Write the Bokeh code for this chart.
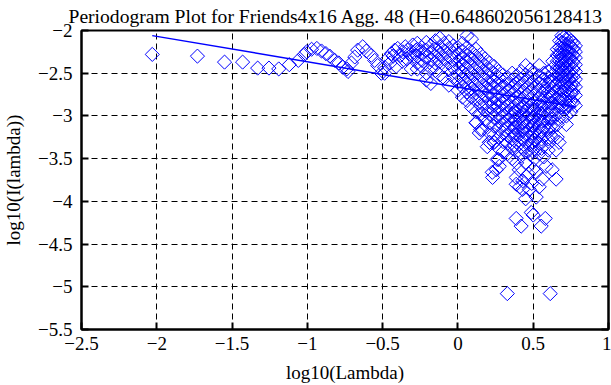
import numpy as np
from bokeh.plotting import figure
from bokeh.models import FixedTicker, LinearAxis, ColumnDataSource
from bokeh.embed import file_html
from bokeh.resources import INLINE

title_text = "Periodogram Plot for Friends4x16 Agg. 48 (H=0.648602056128413"
x_label = "log10(Lambda)"
y_label = "log10(I(lambda))"

x_ticks = [-2.5, -2, -1.5, -1, -0.5, 0, 0.5, 1]
x_tick_labels = ["\u22122.5", "\u22122", "\u22121.5", "\u22121", "\u22120.5", "0", "0.5", "1"]
y_ticks = [-5.5, -5, -4.5, -4, -3.5, -3, -2.5, -2]
y_tick_labels = ["\u22125.5", "\u22125", "\u22124.5", "\u22124", "\u22123.5", "\u22123", "\u22122.5", "\u22122"]

# low-frequency, clearly separated points
low_x = [-2.03, -1.73, -1.55, -1.43, -1.33, -1.255, -1.19, -1.12, -1.06, -1.02]
low_y = [-2.28, -2.30, -2.37, -2.37, -2.44, -2.44, -2.45, -2.40, -2.35, -2.28]

# points between log10(lambda) = -1 and -0.27
mid_x = [-1.005, -0.972, -0.937, -0.906, -0.877, -0.851, -0.818, -0.791, -0.765, -0.738,
         -0.730, -0.707, -0.685, -0.666, -0.632, -0.608, -0.575, -0.553, -0.533, -0.509,
         -0.487, -0.487, -0.467, -0.450, -0.442, -0.430, -0.420, -0.410, -0.400, -0.380,
         -0.370, -0.367, -0.350, -0.340, -0.334, -0.320, -0.310, -0.300, -0.290, -0.277]
mid_y = [-2.25, -2.22, -2.21, -2.24, -2.27, -2.30, -2.35, -2.38, -2.43, -2.45,
         -2.48, -2.38, -2.31, -2.23, -2.19, -2.24, -2.29, -2.35, -2.41, -2.50,
         -2.43, -2.50, -2.33, -2.38, -2.27, -2.30, -2.23, -2.42, -2.21, -2.29,
         -2.36, -2.25, -2.19, -2.33, -2.23, -2.27, -2.45, -2.17, -2.30, -2.23]

# dense part: one column of log10(I) values per log10(lambda) position
dense_x = [-0.27, -0.24, -0.21, -0.18, -0.15, -0.12, -0.09, -0.06, -0.03,
           0.00, 0.03, 0.06, 0.09, 0.12, 0.15, 0.18, 0.21, 0.24, 0.27, 0.30,
           0.33, 0.36, 0.39, 0.42, 0.45, 0.48, 0.51, 0.54,
           0.57, 0.60, 0.63, 0.66, 0.69, 0.72, 0.75, 0.78]
dense_y = [
    [-2.15, -2.22, -2.30, -2.38, -2.45],
    [-2.20, -2.27, -2.35, -2.42],
    [-2.14, -2.23, -2.31, -2.50, -2.58],
    [-2.18, -2.26, -2.34, -2.44, -2.62],
    [-2.12, -2.22, -2.30, -2.38, -2.47],
    [-2.09, -2.19, -2.28, -2.36, -2.52],
    [-2.15, -2.24, -2.33, -2.41, -2.56],
    [-2.13, -2.21, -2.30, -2.38, -2.46, -2.64],
    [-2.18, -2.27, -2.35, -2.44, -2.55],
    [-2.20, -2.28, -2.36, -2.44, -2.52, -2.60, -2.70],
    [-2.15, -2.24, -2.32, -2.40, -2.48, -2.57, -2.66, -2.78],
    [-2.06, -2.20, -2.29, -2.37, -2.45, -2.54, -2.62, -2.72, -2.82],
    [-2.10, -2.25, -2.33, -2.42, -2.50, -2.59, -2.68, -2.78, -2.90],
    [-2.22, -2.30, -2.39, -2.47, -2.56, -2.64, -2.73, -2.82, -2.95, -3.08],
    [-2.28, -2.36, -2.44, -2.53, -2.61, -2.70, -2.79, -2.88, -2.98, -3.16],
    [-2.33, -2.41, -2.50, -2.58, -2.67, -2.76, -2.85, -2.94, -3.04],
    [-2.38, -2.46, -2.55, -2.63, -2.72, -2.80, -2.89, -2.98, -3.08, -3.20, -3.31],
    [-2.42, -2.50, -2.59, -2.67, -2.76, -2.85, -2.93, -3.02, -3.12, -3.22, -3.31],
    [-2.48, -2.55, -2.64, -2.72, -2.81, -2.89, -2.98, -3.06, -3.15, -3.25, -3.38, -3.51],
    [-2.52, -2.60, -2.68, -2.77, -2.85, -2.94, -3.02, -3.11, -3.20, -3.30, -3.42],
    [-2.55, -2.63, -2.71, -2.80, -2.88, -2.97, -3.05, -3.14, -3.23, -3.32, -3.44],
    [-2.50, -2.58, -2.67, -2.75, -2.84, -2.92, -3.01, -3.10, -3.18, -3.27, -3.38, -3.50],
    [-2.53, -2.62, -2.70, -2.79, -2.87, -2.96, -3.05, -3.13, -3.22, -3.31, -3.42, -3.55],
    [-2.48, -2.57, -2.65, -2.74, -2.82, -2.91, -3.00, -3.08, -3.17, -3.26, -3.36, -3.47],
    [-2.41, -2.52, -2.60, -2.69, -2.77, -2.86, -2.95, -3.03, -3.12, -3.21, -3.31, -3.42, -3.55],
    [-2.46, -2.55, -2.63, -2.72, -2.80, -2.89, -2.98, -3.06, -3.15, -3.24, -3.34, -3.45],
    [-2.50, -2.58, -2.67, -2.75, -2.84, -2.93, -3.01, -3.10, -3.19, -3.28, -3.38, -3.50],
    [-2.41, -2.53, -2.62, -2.70, -2.79, -2.87, -2.96, -3.05, -3.13, -3.22, -3.32, -3.44],
    [-2.50, -2.57, -2.64, -2.71, -2.79, -2.88, -2.96, -3.05, -3.14, -3.24, -3.35, -3.48],
    [-2.48, -2.55, -2.63, -2.72, -2.80, -2.89, -2.98, -3.07, -3.16, -3.27, -3.40],
    [-2.36, -2.44, -2.52, -2.60, -2.68, -2.76, -2.85, -2.94, -3.03, -3.13, -3.25],
    [-2.22, -2.29, -2.36, -2.44, -2.52, -2.61, -2.70, -2.79, -2.88, -2.98, -3.10, -3.25],
    [-2.06, -2.14, -2.21, -2.29, -2.37, -2.45, -2.53, -2.62, -2.71, -2.80, -2.90, -3.02],
    [-2.10, -2.16, -2.23, -2.30, -2.37, -2.45, -2.53, -2.61, -2.70, -2.79, -2.89, -3.00, -3.10],
    [-2.12, -2.19, -2.26, -2.33, -2.40, -2.48, -2.56, -2.64, -2.73, -2.83, -2.95],
    [-2.18, -2.25, -2.32, -2.40, -2.48, -2.57, -2.66, -2.76, -2.88],
]

# extra in-between columns where the cloud is solid
fill_x = [0.375, 0.435, 0.495, 0.555, 0.615, 0.675, 0.705, 0.735, 0.765]
fill_y = [
    [-2.95, -3.04, -3.13, -3.22, -3.34],
    [-2.90, -2.99, -3.08, -3.17, -3.27, -3.39],
    [-2.92, -3.02, -3.11, -3.20, -3.30, -3.41],
    [-2.88, -2.97, -3.06, -3.16, -3.27, -3.38],
    [-2.60, -2.76, -2.85, -2.94, -3.03, -3.12, -3.22],
    [-2.12, -2.20, -2.28, -2.36, -2.44, -2.52, -2.60, -2.68, -2.78, -2.88],
    [-2.08, -2.15, -2.22, -2.30, -2.38, -2.46, -2.54, -2.63, -2.72, -2.82, -2.94],
    [-2.09, -2.16, -2.24, -2.32, -2.40, -2.49, -2.58, -2.67, -2.77, -2.88],
    [-2.14, -2.21, -2.29, -2.37, -2.45, -2.54, -2.63, -2.72, -2.84],
]

# scattered low values
out_x = [0.123, 0.162, 0.142, 0.195, 0.209, 0.240, 0.260, 0.275, 0.255, 0.228,
         0.230, 0.387, 0.407, 0.410, 0.430, 0.454, 0.474, 0.450, 0.520, 0.520,
         0.540, 0.560, 0.586, 0.626, 0.652, 0.652, 0.672, 0.387, 0.430, 0.490,
         0.500, 0.470, 0.387, 0.420, 0.487, 0.500, 0.580, 0.553, 0.328, 0.613]
out_y = [-3.08, -3.16, -3.20, -3.36, -3.31, -3.31, -3.51, -3.59, -3.63, -3.66,
         -3.72, -3.72, -3.63, -3.83, -3.86, -3.71, -3.86, -3.97, -3.66, -3.95,
         -3.83, -3.74, -3.59, -3.63, -3.74, -3.40, -3.31, -3.80, -3.76, -3.79,
         -3.62, -3.68, -4.20, -4.29, -4.13, -4.16, -4.20, -4.29, -5.08, -5.08]

# least-squares fit line end points
fit_x = [-2.03, 0.785]
fit_y = [-2.06, -2.896]

all_x = list(low_x) + list(mid_x) + list(out_x)
all_y = list(low_y) + list(mid_y) + list(out_y)
for cols_x, cols_y in ((dense_x, dense_y), (fill_x, fill_y)):
    for cx, cys in zip(cols_x, cols_y):
        all_x += [cx] * len(cys)
        all_y += list(cys)

FONT = "Liberation Serif"

p = figure(width=611, height=385, x_range=(-2.5, 1), y_range=(-5.5, -2),
           output_backend="svg", toolbar_location=None,
           min_border_left=81, min_border_right=3, min_border_top=30, min_border_bottom=54,
           x_axis_label=x_label, y_axis_label=y_label)

p.title.text = title_text
p.title.text_font = FONT
p.title.text_font_size = "19.6px"
p.title.text_font_style = "normal"
p.title.text_color = "black"
p.title.align = "left"
p.title.offset = -13
p.title.standoff = 7
p.outline_line_color = "black"
p.outline_line_width = 2
p.background_fill_color = "white"
p.border_fill_color = "white"

src = ColumnDataSource(dict(x=all_x, y=all_y))
p.scatter("x", "y", source=src, marker="square", angle=np.pi / 4, size=10,
          fill_color=None, line_color="#0000ff", line_width=1)
p.line(fit_x, fit_y, line_color="#0000ff", line_width=1.5)

for g, ticks in ((p.xgrid, x_ticks), (p.ygrid, y_ticks)):
    g.ticker = FixedTicker(ticks=ticks)
    g.grid_line_color = "black"
    g.grid_line_dash = "6 4"
    g.grid_line_width = 1

def style_axis(ax, ticks, labels, show_labels=True):
    ax.ticker = FixedTicker(ticks=ticks)
    ax.axis_line_width = 2
    ax.axis_line_color = "black"
    ax.major_tick_in = 7
    ax.major_tick_out = 0
    ax.major_tick_line_width = 2
    ax.major_tick_line_color = "black"
    ax.minor_tick_line_color = None
    ax.major_label_text_font = FONT
    if show_labels:
        ax.major_label_overrides = {t: l for t, l in zip(ticks, labels)}
        ax.major_label_text_font_size = "19px"
        ax.major_label_text_color = "black"
    else:
        ax.major_label_text_font_size = "1px"
        ax.major_label_text_color = None
        ax.major_label_standoff = 0
    ax.axis_label_text_font = FONT
    ax.axis_label_text_font_size = "19px"
    ax.axis_label_text_font_style = "normal"
    ax.axis_label_text_color = "black"

style_axis(p.xaxis[0], x_ticks, x_tick_labels)
p.xaxis[0].major_label_standoff = 7
p.xaxis[0].axis_label_standoff = 9
style_axis(p.yaxis[0], y_ticks, y_tick_labels)
p.yaxis[0].major_label_standoff = 9
p.yaxis[0].axis_label_standoff = 11

right_ax = LinearAxis()
style_axis(right_ax, y_ticks, y_tick_labels, show_labels=False)
p.add_layout(right_ax, "right")

open("out.html", "w").write(file_html(p, INLINE))
